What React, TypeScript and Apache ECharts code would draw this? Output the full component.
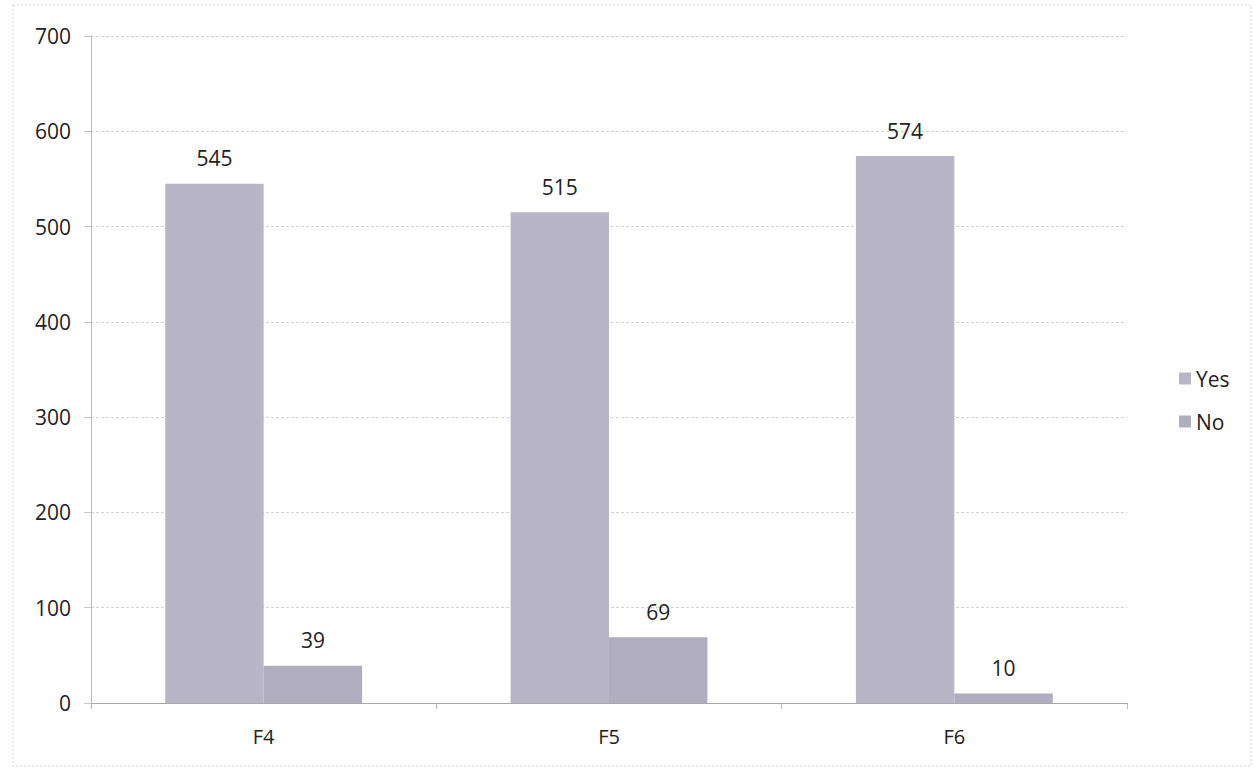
import React, { useEffect, useRef } from "react";
import * as echarts from "echarts";

const categories = ["F4", "F5", "F6"];
const yesValues = [545, 515, 574];
const noValues = [39, 69, 10];
const seriesNames = ["Yes", "No"];

export default function App() {
  const ref = useRef<HTMLDivElement>(null);
  useEffect(() => {
    if (!ref.current) return;
    const chart = echarts.init(ref.current, null, { renderer: "svg" });
    const font = "'Open Sans', 'Noto Sans', sans-serif";
    chart.setOption({
      animation: false,
      backgroundColor: "#ffffff",
      textStyle: { fontFamily: font },
      graphic: [
        {
          type: "rect",
          shape: { x: 13, y: 5, width: 1238, height: 761 },
          style: { fill: "none", stroke: "#d4d4d8", lineWidth: 1, lineDash: [2, 2] },
          silent: true,
        },
      ],
      legend: {
        orient: "vertical",
        left: 1174,
        top: 363,
        itemWidth: 12,
        itemHeight: 12,
        itemGap: 22,
        icon: "rect",
        textStyle: { fontSize: 21, color: "#222", fontFamily: font },
        data: seriesNames,
      },
      grid: { left: 91, right: 128, top: 36, bottom: 67, containLabel: false },
      xAxis: {
        type: "category",
        data: categories,
        axisLine: { show: true, lineStyle: { color: "#a8a8a8" } },
        axisTick: { show: true, length: 6, lineStyle: { color: "#b8b8b8" } },
        axisLabel: { fontSize: 20, color: "#222", margin: 23, fontFamily: font },
      },
      yAxis: {
        type: "value",
        min: 0,
        max: 700,
        interval: 100,
        axisLine: { show: true, lineStyle: { color: "#b8b8b8" } },
        axisTick: { show: true, length: 7, lineStyle: { color: "#c4c4c4" } },
        axisLabel: { fontSize: 21, color: "#222", margin: 20, fontFamily: font },
        splitLine: { show: true, lineStyle: { color: "#d2d2d2", type: [3, 2], width: 1 } },
      },
      series: [
        {
          name: seriesNames[0],
          type: "bar",
          data: yesValues,
          barGap: "0%",
          barCategoryGap: "43%",
          itemStyle: { color: "#b7b5c6" },
          label: { show: true, position: "top", distance: 15, fontSize: 21, color: "#222", fontFamily: font },
        },
        {
          name: seriesNames[1],
          type: "bar",
          data: noValues,
          barGap: "0%",
          barCategoryGap: "43%",
          itemStyle: { color: "#b0adbe" },
          label: { show: true, position: "top", distance: 15, fontSize: 21, color: "#222", fontFamily: font },
        },
      ],
    });
    return () => chart.dispose();
  }, []);
  return (
    <div
      ref={ref}
      style={{ position: "absolute", left: 0, top: 0, width: 1255, height: 770 }}
    />
  );
}
